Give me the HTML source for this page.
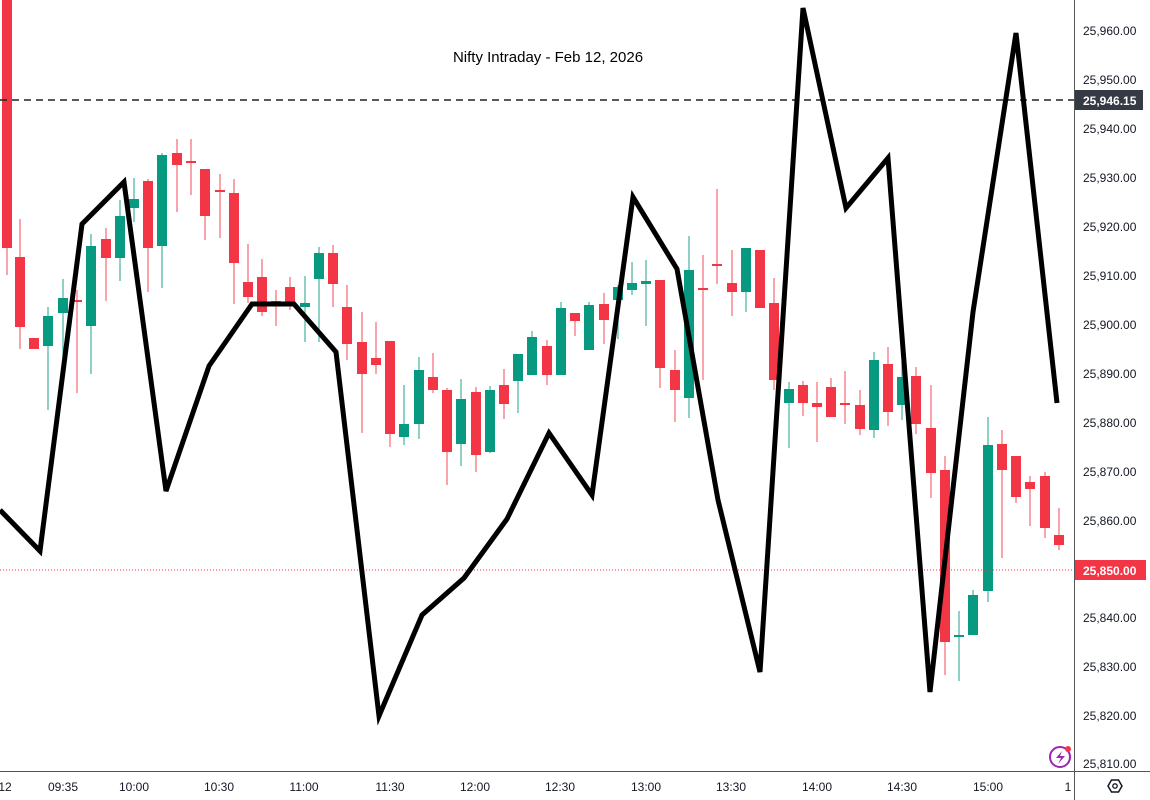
<!DOCTYPE html>
<html><head><meta charset="utf-8"><style>
html,body{margin:0;padding:0;background:#fff;width:1150px;height:800px;overflow:hidden}
svg{display:block;font-family:"Liberation Sans",sans-serif}
</style></head><body>
<svg id="s" width="1150" height="800" xmlns="http://www.w3.org/2000/svg">
<rect width="1150" height="800" fill="#fff"/>
<g id="c"></g>
<line x1="0" y1="100" x2="1074" y2="100" stroke="#222" stroke-width="1.5" stroke-dasharray="7,5"/>
<line x1="0" y1="570" x2="1074" y2="570" stroke="#f23645" stroke-width="1" stroke-dasharray="1,2"/>
<polyline fill="none" stroke="#000" stroke-width="5" stroke-linejoin="miter" points="0,510 40,551 82,224 124,182 166,491 209,366 252,304 294,304 336,352 379,716 422,615 464,578 507,519 549,433 592,495 633,197 677,269 718,500 760,672 803,8 846,208 888,158 930,692 973,312 1016,33 1057,403"/>
<text x="548" y="62" font-size="15" text-anchor="middle" fill="#000">Nifty Intraday - Feb 12, 2026</text>
<line x1="1074.5" y1="0" x2="1074.5" y2="800" stroke="#555" stroke-width="1"/>
<line x1="0" y1="771.5" x2="1150" y2="771.5" stroke="#555" stroke-width="1"/>
<g font-size="12" fill="#131722" text-anchor="start">
<text x="1083" y="35">25,960.00</text>
<text x="1083" y="84">25,950.00</text>
<text x="1083" y="133">25,940.00</text>
<text x="1083" y="182">25,930.00</text>
<text x="1083" y="231">25,920.00</text>
<text x="1083" y="280">25,910.00</text>
<text x="1083" y="329">25,900.00</text>
<text x="1083" y="378">25,890.00</text>
<text x="1083" y="427">25,880.00</text>
<text x="1083" y="476">25,870.00</text>
<text x="1083" y="525">25,860.00</text>
<text x="1083" y="622">25,840.00</text>
<text x="1083" y="671">25,830.00</text>
<text x="1083" y="720">25,820.00</text>
<text x="1083" y="768">25,810.00</text>
</g>
<rect x="1075" y="90" width="68" height="20" fill="#363a45"/>
<text x="1083" y="105" font-size="12" font-weight="bold" fill="#fff">25,946.15</text>
<rect x="1075" y="560" width="71" height="20" fill="#f23645"/>
<text x="1083" y="575" font-size="12" font-weight="bold" fill="#fff">25,850.00</text>
<g font-size="12" fill="#131722" text-anchor="middle">
<text x="5" y="791">12</text>
<text x="63" y="791">09:35</text>
<text x="134" y="791">10:00</text>
<text x="219" y="791">10:30</text>
<text x="304" y="791">11:00</text>
<text x="390" y="791">11:30</text>
<text x="475" y="791">12:00</text>
<text x="560" y="791">12:30</text>
<text x="646" y="791">13:00</text>
<text x="731" y="791">13:30</text>
<text x="817" y="791">14:00</text>
<text x="902" y="791">14:30</text>
<text x="988" y="791">15:00</text>
<text x="1068" y="791">1</text>
</g>
<polygon points="1108,786 1111.5,780 1118.5,780 1122,786 1118.5,792 1111.5,792" fill="none" stroke="#131722" stroke-width="1.5"/>
<circle cx="1115" cy="786" r="2.2" fill="none" stroke="#131722" stroke-width="1.3"/>
<circle cx="1060" cy="757" r="10" fill="none" stroke="#9c27b0" stroke-width="2"/>
<path d="M1062,751 L1056,758 L1061,758 L1058,764 L1065,756 L1060,756 Z" fill="#9c27b0"/>
<circle cx="1068" cy="749" r="3" fill="#f23645"/>
</svg>
<script>
var d=[
[7,0,248,0,275,0],[20,257,327,219,349,0],[34,338,349,338,349,0],[48,316,346,307,410,1],[63,298,313,279,360,1],
[77,300,302,290,393,0],[91,246,326,234,374,1],[106,239,258,228,301,0],[120,216,258,200,281,1],[134,199,208,178,222,1],
[148,181,248,179,292,0],[162,155,246,153,288,1],[177,153,165,139,212,0],[191,161,163,139,195,0],[205,169,216,169,240,0],
[220,190,192,174,238,0],[234,193,263,179,304,0],[248,282,297,244,303,0],[262,277,312,259,316,0],[276,301,303,290,326,0],
[290,287,303,277,310,0],[305,303,307,276,342,1],[319,253,279,247,342,1],[333,253,284,245,307,0],[347,307,344,285,360,0],
[362,342,374,312,433,0],[376,358,365,322,374,0],[390,341,434,341,447,0],[404,424,437,385,445,1],[419,370,424,357,439,1],
[433,377,390,353,393,0],[447,390,452,388,485,0],[461,399,444,379,466,1],[476,392,455,387,472,0],[490,390,452,386,453,1],
[504,385,404,369,419,0],[518,354,381,354,413,1],[532,337,375,331,375,1],[547,346,375,340,385,0],[561,308,375,302,375,1],
[575,313,321,313,336,0],[589,305,350,302,350,1],[604,304,320,293,344,0],[618,287,300,285,339,1],[632,283,290,262,295,1],
[646,281,284,260,326,1],[660,280,368,280,388,0],[675,370,390,350,422,0],[689,270,398,236,418,1],[703,288,290,255,380,0],
[717,264,266,189,284,0],[732,283,292,250,316,0],[746,248,292,248,312,1],[760,250,308,250,308,0],[774,303,380,278,390,0],
[789,389,403,382,448,1],[803,385,403,381,416,0],[817,403,407,382,442,0],[831,387,417,378,417,0],[845,403,405,371,424,0],
[860,405,429,390,435,0],[874,360,430,352,438,1],[888,364,412,347,426,0],[902,377,405,362,420,1],[916,376,424,367,434,0],
[931,428,473,385,498,0],[945,470,642,456,675,0],[959,635,637,611,681,1],[973,595,635,590,635,1],[988,445,591,417,602,1],
[1002,444,470,430,558,0],[1016,456,497,456,503,0],[1030,482,489,476,526,0],[1045,476,528,472,538,0],[1059,535,545,508,550,0]];
var g=document.getElementById('c'),h='';
d.forEach(function(c){var col=c[5]?'#089981':'#f23645',x=c[0];
h+='<line x1="'+x+'" y1="'+c[3]+'" x2="'+x+'" y2="'+c[4]+'" stroke="'+col+'" stroke-width="1.2" opacity="0.75"/>';
var t=Math.min(c[1],c[2]),b=Math.max(c[1],c[2]);if(b-t<2)b=t+2;
h+='<rect x="'+(x-5)+'" y="'+t+'" width="10" height="'+(b-t)+'" fill="'+col+'"/>';});
g.innerHTML=h;
</script>
</body></html>
